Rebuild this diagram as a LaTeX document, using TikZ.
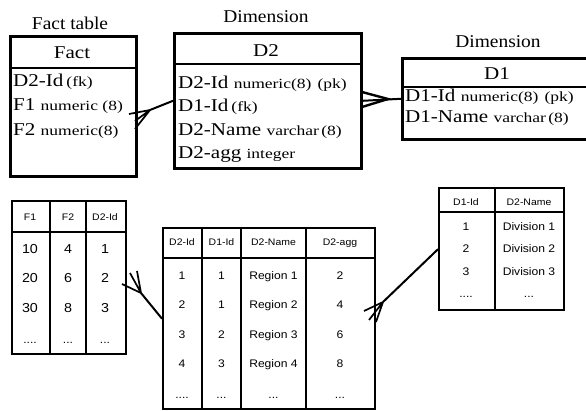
\documentclass[tikz,border=0pt]{standalone}
\usepackage{fontspec}
\newfontfamily\mainserif[FakeStretch=1.17]{Liberation Serif}
\newfontfamily\smallserif[FakeStretch=1.25]{Liberation Serif}
\newfontfamily\titleserif[FakeStretch=1.08]{Liberation Serif}
\newfontfamily\tabsans[FakeStretch=1.1]{Liberation Sans}
\newcommand\mtxt{\fontsize{18}{20}\mainserif}
\newcommand\stxt{\fontsize{14}{16}\smallserif}
\newcommand\ttxt{\fontsize{18}{20}\titleserif}
\newcommand\htxt{\fontsize{9.5}{11}\tabsans}
\newcommand\dtxt{\fontsize{11}{13}\tabsans}
\newcommand\ftxt{\fontsize{13}{15}\tabsans}
\begin{document}
\begin{tikzpicture}[x=1pt,y=-1pt,
  box/.style={draw, line width=2.6pt, inner sep=0pt, anchor=north west},
  tbox/.style={draw, line width=2.4pt, inner sep=0pt, anchor=north west},
  divline/.style={line width=1.3pt},
  coldiv/.style={line width=1.6pt},
  conn/.style={line width=2pt},
  prong/.style={line width=1.7pt},
  lbl/.style={inner sep=0pt, anchor=base},
  rowt/.style={inner sep=0pt, anchor=base west},
  hcell/.style={inner sep=0pt, anchor=base, font=\htxt},
  dcell/.style={inner sep=0pt, anchor=base, font=\dtxt},
  fcell/.style={inner sep=0pt, anchor=base, font=\ftxt}]
\clip (0,0) rectangle (586,411);
\useasboundingbox (0,0) rectangle (586,411);
\fill[white] (0,0) rectangle (586,411);

% ---------- Fact entity ----------
\node[lbl] (factlbl) at (70,30) {\ttxt Fact table};
\node[box, minimum width=126pt, minimum height=140pt] (fact) at (9,35) {};
\node[lbl] (facttitle) at (72,59) {\mtxt Fact};
\draw[divline] (9,68) -- (135,68);
\node[rowt] (fr1) at (13,87) {\mtxt D2-Id\,{\stxt (fk)}};
\node[rowt] (fr2) at (13,111) {\mtxt F1 {\stxt numeric (8)}};
\node[rowt] (fr3) at (13,136) {\mtxt F2 {\stxt numeric(8)}};

% ---------- D2 entity ----------
\node[lbl] (d2lbl) at (266,23) {\ttxt Dimension};
\node[box, minimum width=187pt, minimum height=135pt] (d2) at (173,32) {};
\node[lbl] (d2title) at (266,57) {\mtxt D2};
\draw[divline] (173,64) -- (360,64);
\node[rowt] (dr1) at (178,89) {\mtxt D2-Id {\stxt numeric(8)\hspace{6pt}(pk)}};
\node[rowt] (dr2) at (178,112) {\mtxt D1-Id\,{\stxt (fk)}};
\node[rowt] (dr3) at (178,136) {\mtxt D2-Name {\stxt varchar\,(8)}};
\node[rowt] (dr4) at (178,159) {\mtxt D2-agg {\stxt integer}};

% ---------- D1 entity ----------
\node[lbl] (d1lbl) at (498,48) {\ttxt Dimension};
\node[box, minimum width=200pt, minimum height=81pt] (d1) at (401,57) {};
\node[lbl] (d1title) at (497,80) {\mtxt D1};
\draw[divline] (401,87) -- (601,87);
\node[rowt] (er1) at (405,102) {\mtxt D1-Id {\stxt numeric(8)\hspace{6pt}(pk)}};
\node[rowt] (er2) at (405,123) {\mtxt D1-Name {\stxt varchar\,(8)}};

% ---------- top connectors ----------
\coordinate (m1) at (150,110);
\coordinate (p1a) at (129,114);
\coordinate (p1b) at (135,121);
\coordinate (p1c) at (135,129);
\draw[conn] (d2.west) -- (m1);
\draw[prong] (m1) -- (p1a) (m1) -- (p1b) (m1) -- (p1c);

\coordinate (m2) at (388,99);
\coordinate (p2a) at (362,92);
\coordinate (p2c) at (362,107);
\draw[conn] (d2.east) -- (d1.west);
\draw[prong, line width=2.4pt] (p2a) -- (m2) -- (p2c);

% ---------- Fact data table ----------
\node[tbox, minimum width=114pt, minimum height=153pt] (fd) at (11,200) {};
\draw[divline] (11,232) -- (125,232);
\draw[coldiv] (50,200) -- (50,353) (86,200) -- (86,353);
\node[hcell] at (30,221) {F1};
\node[hcell] at (68,221) {F2};
\node[hcell] at (105,221) {D2-Id};
\node[fcell] at (30,254) {10}; \node[fcell] at (68,254) {4}; \node[fcell] at (105,254) {1};
\node[fcell] at (30,283) {20}; \node[fcell] at (68,283) {6}; \node[fcell] at (105,283) {2};
\node[fcell] at (30,313) {30}; \node[fcell] at (68,313) {8}; \node[fcell] at (105,313) {3};
\node[dcell] at (30,344) {....}; \node[dcell] at (68,344) {...}; \node[dcell] at (105,344) {...};

% ---------- D2 data table ----------
\node[tbox, minimum width=212pt, minimum height=181pt] (dd) at (162,227) {};
\draw[divline] (162,258) -- (374,258);
\draw[coldiv] (202,227) -- (202,408) (241,227) -- (241,408) (306,227) -- (306,408);
\node[hcell] at (182,246) {D2-Id};
\node[hcell] at (221.5,246) {D1-Id};
\node[hcell] at (273.5,246) {D2-Name};
\node[hcell] at (340,246) {D2-agg};
\node[dcell] at (182,280) {1}; \node[dcell] at (221.5,280) {1}; \node[dcell] at (273.5,280) {Region 1}; \node[dcell] at (340,280) {2};
\node[dcell] at (182,309) {2}; \node[dcell] at (221.5,309) {1}; \node[dcell] at (273.5,309) {Region 2}; \node[dcell] at (340,309) {4};
\node[dcell] at (182,339) {3}; \node[dcell] at (221.5,339) {2}; \node[dcell] at (273.5,339) {Region 3}; \node[dcell] at (340,339) {6};
\node[dcell] at (182,367) {4}; \node[dcell] at (221.5,367) {3}; \node[dcell] at (273.5,367) {Region 4}; \node[dcell] at (340,367) {8};
\node[dcell] at (182,398) {....}; \node[dcell] at (221.5,398) {...}; \node[dcell] at (273.5,398) {...}; \node[dcell] at (340,398) {...};

% ---------- D1 data table ----------
\node[tbox, minimum width=125pt, minimum height=122pt] (de) at (438,187) {};
\draw[divline] (438,212) -- (563,212);
\draw[coldiv] (495,187) -- (495,309);
\node[hcell] at (466,206) {D1-Id};
\node[hcell] at (529,206) {D2-Name};
\node[dcell] at (466,231) {1}; \node[dcell] at (529,231) {Division 1};
\node[dcell] at (466,253) {2}; \node[dcell] at (529,253) {Division 2};
\node[dcell] at (466,276) {3}; \node[dcell] at (529,276) {Division 3};
\node[dcell] at (466,298) {....}; \node[dcell] at (529,298) {...};

% ---------- bottom connectors ----------
\coordinate (m3) at (141,293);
\coordinate (p3a) at (122,284);
\coordinate (p3b) at (130,273);
\coordinate (p3c) at (137,271);
\draw[conn] (dd.west) -- (m3);
\draw[prong] (m3) -- (p3a) (m3) -- (p3b) (m3) -- (p3c);

\coordinate (m4) at (383,302);
\coordinate (p4a) at (364,311);
\coordinate (p4b) at (369,320);
\coordinate (p4c) at (376,322);
\draw[conn] (de.west) -- (m4);
\draw[prong] (m4) -- (p4a) (m4) -- (p4b) (m4) -- (p4c);
\end{tikzpicture}
\end{document}
